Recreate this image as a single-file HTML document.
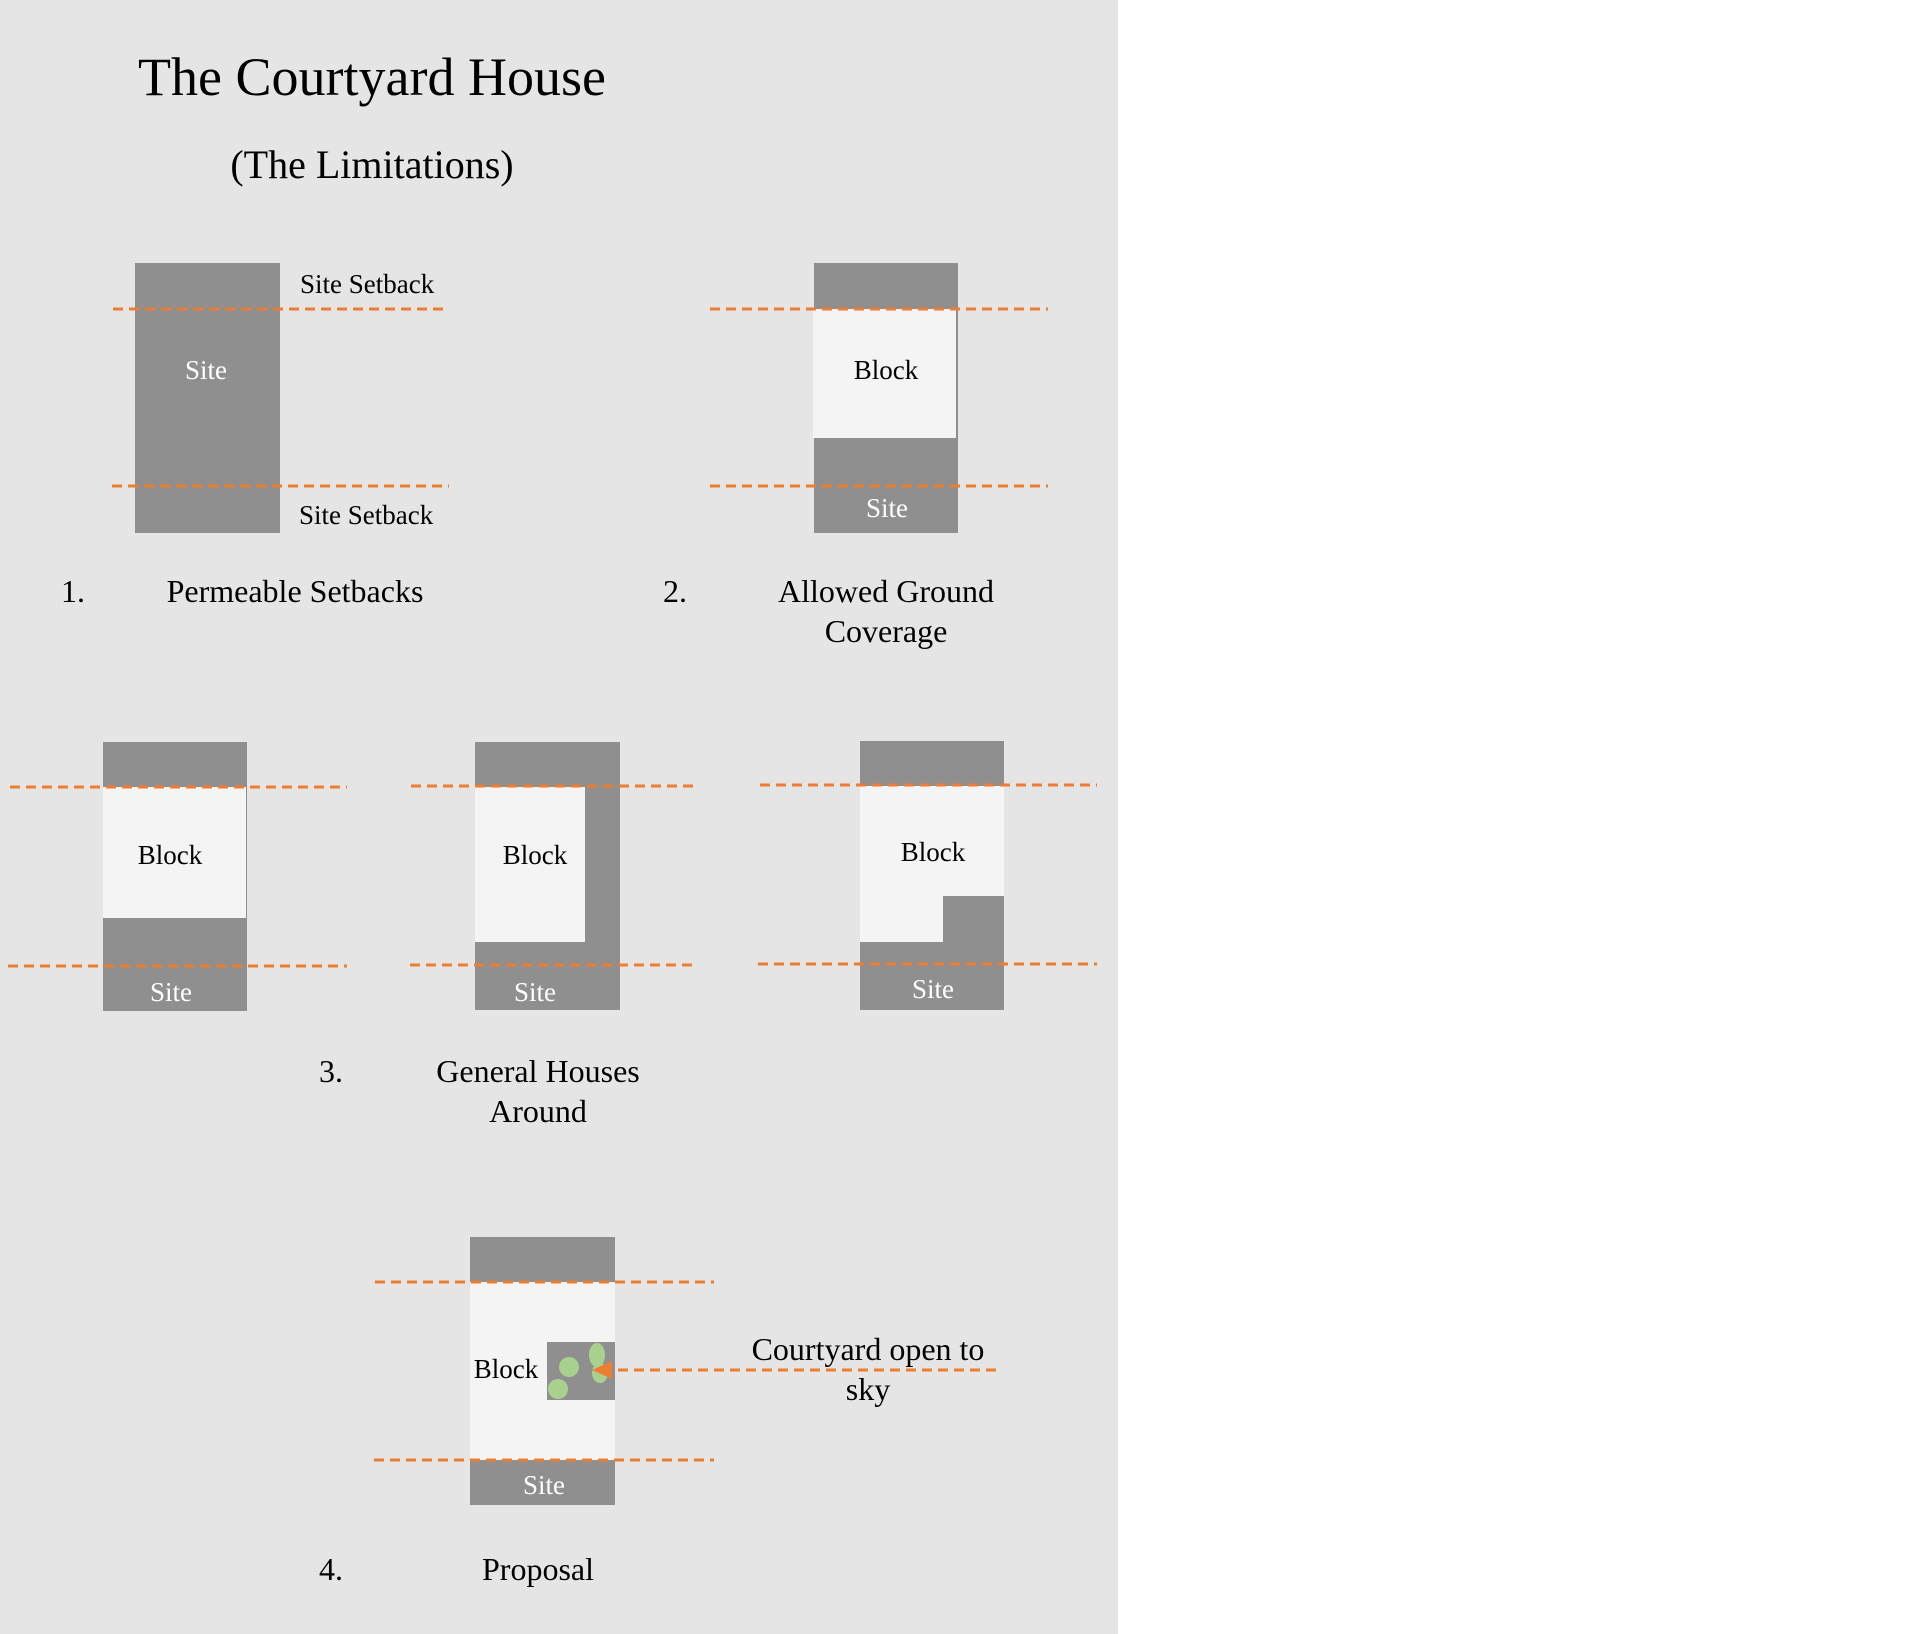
<!DOCTYPE html>
<html><head><style>
body{margin:0;width:1920px;height:1634px;background:#fff;overflow:hidden}
svg{display:block}
text{font-family:"Liberation Serif",serif}
</style></head><body>
<svg width="1920" height="1634" viewBox="0 0 1920 1634">
<rect x="0" y="0" width="1118" height="1634" fill="#e5e5e5"/>
<text x="372" y="95" font-size="54" text-anchor="middle">The Courtyard House</text>
<text x="372" y="178" font-size="40" text-anchor="middle">(The Limitations)</text>
<g fill="#8f8f8f">
<rect x="135" y="263" width="145" height="270"/>
<rect x="814" y="263" width="144" height="270"/>
<rect x="103" y="742" width="144" height="269"/>
<rect x="475" y="742" width="145" height="268"/>
<rect x="860" y="741" width="144" height="269"/>
<rect x="470" y="1237" width="145" height="268"/>
</g>
<g fill="#f4f4f4">
<rect x="813" y="309" width="143" height="129"/>
<rect x="103" y="787" width="143" height="131"/>
<rect x="475" y="787" width="110" height="155"/>
<path d="M860 786H1004V896H943V942H860Z"/>
<rect x="470" y="1282" width="145" height="178"/>
</g>
<rect x="547" y="1342" width="68" height="58" fill="#8f8f8f"/>
<g fill="#a9d18e">
<circle cx="569" cy="1367" r="10"/>
<circle cx="558" cy="1389" r="10"/>
<ellipse cx="597" cy="1355" rx="8" ry="12"/>
<ellipse cx="600" cy="1373" rx="8" ry="10"/>
</g>
<g stroke="#ed7d31" stroke-width="3" stroke-dasharray="10 6" fill="none">
<line x1="113" y1="309" x2="449" y2="309"/>
<line x1="112" y1="486" x2="449" y2="486"/>
<line x1="710" y1="309" x2="1048" y2="309"/>
<line x1="710" y1="486" x2="1048" y2="486"/>
<line x1="10" y1="787" x2="347" y2="787"/>
<line x1="8" y1="966" x2="347" y2="966"/>
<line x1="411" y1="786" x2="698" y2="786"/>
<line x1="410" y1="965" x2="698" y2="965"/>
<line x1="760" y1="785" x2="1097" y2="785"/>
<line x1="758" y1="964" x2="1097" y2="964"/>
<line x1="375" y1="1282" x2="714" y2="1282"/>
<line x1="374" y1="1460" x2="714" y2="1460"/>
<line x1="996" y1="1370" x2="606" y2="1370"/>
</g>
<polygon points="592,1370 612,1361 612,1379" fill="#ed7d31"/>
<g font-size="27" fill="#fff" text-anchor="middle">
<text x="206" y="379">Site</text>
<text x="887" y="517">Site</text>
<text x="171" y="1001">Site</text>
<text x="535" y="1001">Site</text>
<text x="933" y="998">Site</text>
<text x="544" y="1494">Site</text>
</g>
<g font-size="27" fill="#000">
<text x="300" y="293">Site Setback</text>
<text x="299" y="524">Site Setback</text>
<text x="886" y="379" text-anchor="middle">Block</text>
<text x="170" y="864" text-anchor="middle">Block</text>
<text x="535" y="864" text-anchor="middle">Block</text>
<text x="933" y="861" text-anchor="middle">Block</text>
<text x="506" y="1378" text-anchor="middle">Block</text>
</g>
<g font-size="32" fill="#000">
<text x="61" y="602">1.</text>
<text x="295" y="602" text-anchor="middle">Permeable Setbacks</text>
<text x="663" y="602">2.</text>
<text x="886" y="602" text-anchor="middle">Allowed Ground</text>
<text x="886" y="642" text-anchor="middle">Coverage</text>
<text x="319" y="1082">3.</text>
<text x="538" y="1082" text-anchor="middle">General Houses</text>
<text x="538" y="1122" text-anchor="middle">Around</text>
<text x="868" y="1360" text-anchor="middle">Courtyard open to</text>
<text x="868" y="1400" text-anchor="middle">sky</text>
<text x="319" y="1580">4.</text>
<text x="538" y="1580" text-anchor="middle">Proposal</text>
</g>
</svg>
</body></html>
